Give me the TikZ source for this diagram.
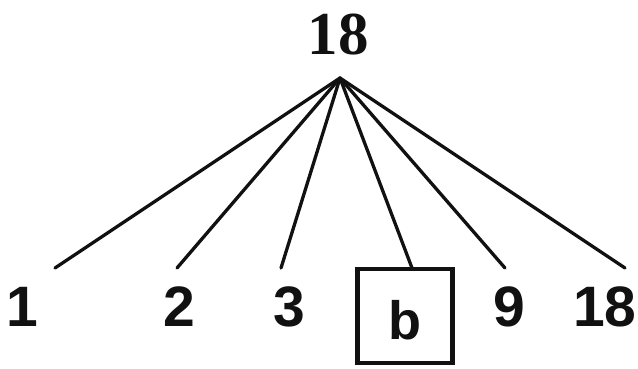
\documentclass[tikz,border=0pt]{standalone}
\usepackage{fontspec}
\setmainfont{Liberation Serif}
\setsansfont{Liberation Sans}
\usetikzlibrary{positioning,calc}
\definecolor{fctInk}{HTML}{111111}
\tikzset{
  fctnum/.style={inner sep=0pt,text=fctInk,font=\fontsize{57}{60}\selectfont\sffamily\bfseries},
  fcttop/.style={inner sep=0pt,text=fctInk,font=\fontsize{61}{64}\selectfont\rmfamily\bfseries},
  fctbox/.style={draw=fctInk,line width=4.2pt,minimum width=95pt,minimum height=94pt,inner sep=0pt},
  fctedge/.style={draw=fctInk,line width=3.3pt,line cap=round},
}
\begin{document}
\begin{tikzpicture}[x=1pt,y=-1pt]
  \useasboundingbox (0,0) rectangle (638,368);
  \node[fcttop] (T) at (338,35) {18};
  \coordinate (A) at (340,78);

  \node[fctnum] (d1) at (22,307) {1};
  \node[fctnum] (d2) at (179,307) {2};
  \node[fctnum] (d3) at (289,307) {3};
  \node[fctbox] (B) at (405,316) {};
  \node[fctnum,font=\fontsize{54}{56}\selectfont\sffamily\bfseries] (b) at (405,320) {b};
  \node[fctnum] (d9) at (509,307) {9};
  \node[fctnum] (d18) at (605,307) {18};

  \coordinate (e1) at (55,268);
  \coordinate (e2) at (177,268);
  \coordinate (e3) at (281,268);
  \coordinate (e4) at (412,268);
  \coordinate (e5) at (505,268);
  \coordinate (e6) at (625,268);

  \foreach \e in {e1,e2,e3,e4,e5,e6}
    \draw[fctedge] (A) -- (\e);
\end{tikzpicture}
\end{document}
